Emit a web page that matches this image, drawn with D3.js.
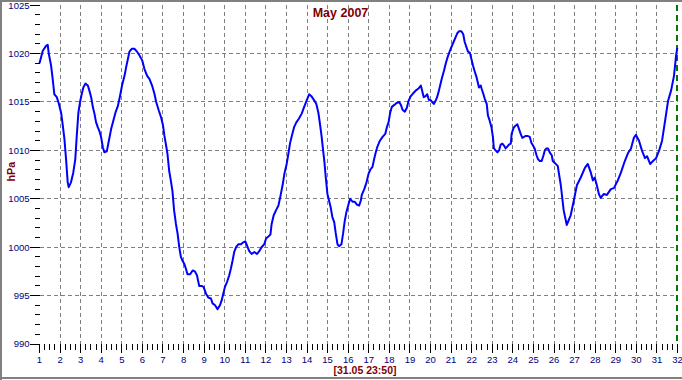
<!DOCTYPE html>
<html>
<head>
<meta charset="utf-8">
<script src="https://cdn.jsdelivr.net/npm/d3@7"></script>
<style>
  html, body { margin: 0; padding: 0; background: #ffffff; }
  svg { display: block; }
  .tick-label { font-family: "Liberation Sans Narrow", "Arial Narrow", "Liberation Sans", Arial, sans-serif; font-size: 9.5px; fill: #000080; }
  .title { font-family: "Liberation Sans", Arial, sans-serif; font-weight: bold; fill: #800000; }
</style>
</head>
<body>
<script>
// ---- data ----
const titleText = "May 2007";
const yLabelText = "hPa";
const footerText = "[31.05 23:50]";
const xTicks = d3.range(1, 33);                 // day-of-month tick labels 1..32
const yTicks = [990, 995, 1000, 1005, 1010, 1015, 1020, 1025];
const endDay = 32;                              // end-of-data marker
// time in days (day-of-month, fractional)
const days = [
  1.00,1.16,1.32,1.40,1.45,1.56,1.64,1.72,1.84,1.93,2.05,2.13,2.21,2.29,2.37,2.42,2.53,2.64,2.74,2.81,
  2.89,2.97,3.05,3.13,3.23,3.35,3.42,3.51,3.59,3.67,3.75,3.83,3.91,3.99,4.08,4.15,4.27,4.37,4.48,4.59,
  4.69,4.81,4.92,5.01,5.13,5.21,5.31,5.37,5.49,5.61,5.74,5.86,5.99,6.10,6.23,6.34,6.47,6.59,6.67,6.80,
  6.91,7.00,7.07,7.16,7.22,7.30,7.38,7.46,7.54,7.63,7.71,7.79,7.87,7.95,8.03,8.11,8.19,8.32,8.44,8.55,
  8.65,8.76,8.87,8.97,9.09,9.20,9.33,9.41,9.53,9.65,9.77,9.85,9.93,10.01,10.11,10.22,10.30,10.38,10.46,10.55,
  10.66,10.79,10.90,11.00,11.08,11.19,11.31,11.44,11.57,11.68,11.79,11.92,12.01,12.12,12.22,12.28,12.38,12.49,12.61,12.70,
  12.82,12.90,13.01,13.09,13.17,13.25,13.37,13.48,13.61,13.74,13.86,13.97,14.10,14.21,14.34,14.45,14.55,14.63,14.71,14.78,
  14.84,14.91,14.99,15.07,15.15,15.23,15.32,15.39,15.48,15.56,15.67,15.75,15.83,15.91,16.00,16.09,16.21,16.32,16.42,16.53,
  16.61,16.66,16.78,16.89,16.99,17.07,17.18,17.26,17.34,17.42,17.54,17.67,17.80,17.88,17.96,18.04,18.12,18.24,18.35,18.48,
  18.56,18.64,18.75,18.85,18.93,19.04,19.16,19.29,19.42,19.53,19.61,19.67,19.76,19.84,19.92,20.00,20.08,20.16,20.24,20.32,
  20.41,20.49,20.57,20.65,20.73,20.81,20.89,20.98,21.06,21.14,21.22,21.30,21.38,21.50,21.59,21.66,21.74,21.82,21.91,21.98,
  22.06,22.14,22.23,22.30,22.35,22.44,22.48,22.57,22.64,22.73,22.79,22.87,22.96,23.03,23.08,23.16,23.25,23.33,23.41,23.49,
  23.57,23.65,23.73,23.81,23.90,23.94,24.03,24.10,24.22,24.30,24.38,24.46,24.54,24.63,24.71,24.82,24.90,24.98,25.06,25.15,
  25.22,25.31,25.40,25.49,25.55,25.63,25.71,25.79,25.89,25.94,26.18,26.33,26.47,26.62,26.81,26.96,27.11,27.30,27.50,27.64,
  27.79,27.89,27.98,28.08,28.18,28.27,28.42,28.57,28.76,28.91,29.10,29.25,29.44,29.59,29.74,29.88,29.98,30.13,30.27,30.42,
  30.52,30.67,30.81,30.96,31.11,31.25,31.40,31.54,31.69,31.83,31.93,31.99
];
// air pressure, hPa
const pressure = [
  1019.0,1020.3,1020.8,1020.9,1020.0,1018.8,1017.4,1015.8,1015.5,1014.9,1013.9,1012.6,1011.2,1009.1,1006.7,1006.2,1006.7,1007.7,1009.1,1011.5,
  1013.9,1015.0,1015.8,1016.5,1016.9,1016.7,1016.2,1015.5,1014.5,1013.8,1012.9,1012.4,1012.0,1011.4,1010.3,1009.8,1009.9,1011.0,1012.2,1013.1,
  1013.9,1014.6,1015.7,1016.7,1017.7,1018.6,1019.6,1020.2,1020.5,1020.5,1020.2,1019.8,1019.3,1018.4,1017.7,1017.4,1016.7,1015.8,1015.0,1014.1,
  1013.4,1012.6,1011.5,1010.4,1009.6,1007.9,1006.9,1005.8,1003.8,1002.4,1001.4,1000.0,999.0,998.6,998.3,997.8,997.2,997.2,997.6,997.5,
  997.1,996.0,996.0,995.9,995.2,994.8,994.7,994.2,994.0,993.6,994.0,994.5,995.2,995.9,996.4,997.1,997.8,998.6,999.5,1000.0,
  1000.3,1000.3,1000.5,1000.6,1000.2,999.6,999.3,999.5,999.3,999.6,1000.0,1000.3,1000.9,1001.1,1001.3,1002.4,1003.3,1003.8,1004.3,1005.2,
  1006.5,1007.6,1008.6,1009.6,1010.7,1011.4,1012.4,1012.9,1013.3,1013.8,1014.5,1015.1,1015.8,1015.6,1015.2,1014.8,1013.9,1012.7,1011.4,1010.0,
  1008.9,1007.2,1005.5,1004.8,1004.1,1003.1,1002.6,1001.5,1000.3,1000.1,1000.3,1001.4,1002.7,1003.6,1004.3,1005.0,1004.7,1004.7,1004.4,1004.3,
  1004.8,1005.4,1006.0,1006.7,1007.6,1008.0,1008.3,1009.1,1009.8,1010.4,1011.0,1011.4,1011.7,1012.4,1012.9,1013.9,1014.5,1014.7,1014.9,1015.0,
  1014.7,1014.2,1014.0,1014.4,1015.1,1015.6,1015.9,1016.2,1016.4,1016.7,1016.0,1015.5,1015.6,1015.8,1015.2,1015.2,1015.0,1014.8,1015.1,1015.5,
  1016.2,1016.9,1017.6,1018.2,1018.9,1019.5,1020.0,1020.5,1020.9,1021.3,1021.7,1022.1,1022.3,1022.3,1022.0,1021.2,1020.7,1020.2,1020.1,1019.5,
  1018.8,1018.2,1017.6,1017.0,1016.5,1016.7,1016.4,1015.8,1015.3,1014.8,1013.6,1013.1,1012.4,1011.4,1010.2,1010.0,1009.8,1010.0,1010.6,1010.7,
  1010.5,1010.2,1010.4,1010.6,1010.7,1011.7,1012.3,1012.5,1012.7,1012.2,1011.7,1011.3,1011.4,1011.5,1011.5,1011.4,1010.8,1010.5,1010.2,1009.5,
  1009.1,1008.9,1008.9,1009.5,1010.0,1010.2,1010.2,1009.8,1009.5,1008.9,1008.4,1006.4,1003.8,1002.3,1003.3,1004.8,1006.4,1007.2,1008.2,1008.6,
  1007.7,1006.9,1007.2,1006.4,1005.5,1005.1,1005.5,1005.4,1006.0,1006.1,1006.9,1007.7,1008.9,1009.7,1010.2,1011.3,1011.6,1011.0,1010.0,1009.2,
  1009.4,1008.6,1008.9,1009.2,1010.0,1011.0,1013.1,1015.1,1016.2,1017.7,1019.8,1020.6
];

// ---- drawing ----
const W = 682, H = 380;
const svg = d3.select("body").append("svg").attr("width", W).attr("height", H);

svg.append("rect").attr("x", 0).attr("y", 0).attr("width", W).attr("height", H).attr("fill", "#ffffff");

const x = d3.scaleLinear().domain([1, 32]).range([39.5, 677.5]);
const y = d3.scaleLinear().domain([990, 1025]).range([344, 5.2]);
const snap = v => Math.round(v - 0.5) + 0.5;

// frame
const frame = svg.append("g").attr("stroke", "#808080").attr("stroke-width", 2).attr("shape-rendering", "crispEdges");
frame.append("line").attr("x1", 1).attr("y1", 0).attr("x2", 1).attr("y2", H);
frame.append("line").attr("x1", 0).attr("y1", 1).attr("x2", W).attr("y2", 1);
frame.append("line").attr("x1", 0).attr("y1", H - 2).attr("x2", W).attr("y2", H - 2);

// grid
const grid = svg.append("g").attr("stroke", "#808080").attr("stroke-width", 1)
  .attr("stroke-dasharray", "4,3").attr("shape-rendering", "crispEdges");
grid.selectAll(".vg").data(xTicks.filter(d => d > 1 && d < 32)).join("line")
  .attr("x1", d => snap(x(d))).attr("x2", d => snap(x(d)))
  .attr("y1", y(1025)).attr("y2", y(990));
grid.selectAll(".hg").data(yTicks.filter(d => d > 990 && d < 1025)).join("line")
  .attr("y1", d => snap(y(d))).attr("y2", d => snap(y(d)))
  .attr("x1", x(1)).attr("x2", x(32));

// end-of-data marker
svg.append("line")
  .attr("x1", x(endDay) - 0.5).attr("x2", x(endDay) - 0.5)
  .attr("y1", y(1025)).attr("y2", y(990))
  .attr("stroke", "#007800").attr("stroke-width", 2).attr("stroke-dasharray", "6,4")
  .attr("shape-rendering", "crispEdges");

// x axis ticks
const axisG = svg.append("g").attr("stroke", "#000").attr("stroke-width", 1).attr("shape-rendering", "crispEdges");
const minorX = d3.range(1, 32).flatMap(d => [d + 0.25, d + 0.5, d + 0.75]);
axisG.selectAll(".xmaj").data(xTicks).join("line")
  .attr("x1", d => snap(x(d))).attr("x2", d => snap(x(d)))
  .attr("y1", 344).attr("y2", 353);
axisG.selectAll(".xmin").data(minorX).join("line")
  .attr("x1", d => snap(x(d))).attr("x2", d => snap(x(d)))
  .attr("y1", 344).attr("y2", 349.5);
// y axis ticks
const minorY = d3.range(990, 1026).filter(v => v % 5 !== 0);
axisG.selectAll(".ymaj").data(yTicks).join("line")
  .attr("y1", d => snap(y(d))).attr("y2", d => snap(y(d)))
  .attr("x1", 30).attr("x2", 39.5);
axisG.selectAll(".ymin").data(minorY).join("line")
  .attr("y1", d => snap(y(d))).attr("y2", d => snap(y(d)))
  .attr("x1", 35).attr("x2", 39.5);

// tick labels
svg.append("g").selectAll("text").data(xTicks).join("text")
  .attr("class", "tick-label").attr("text-anchor", "middle")
  .attr("x", d => x(d)).attr("y", 362.5)
  .text(d => d);
svg.append("g").selectAll("text").data(yTicks).join("text")
  .attr("class", "tick-label").attr("text-anchor", "end")
  .attr("x", 29.5).attr("y", d => y(d) + 3.3)
  .text(d => d);

// data line
const line = d3.line().x((d, i) => x(days[i])).y(d => y(d));
svg.append("path").datum(pressure)
  .attr("fill", "none").attr("stroke", "#0000ff").attr("stroke-width", 2)
  .attr("stroke-linejoin", "round")
  .attr("d", line);

// titles
svg.append("text").attr("class", "title").attr("x", 340.5).attr("y", 17)
  .attr("text-anchor", "middle").attr("font-size", "12.5px").text(titleText);
svg.append("text").attr("class", "title").attr("text-anchor", "middle")
  .attr("font-size", "10.8px")
  .attr("transform", "translate(14.7,171.7) rotate(-90)").text(yLabelText);
svg.append("text").attr("class", "title").attr("x", 365).attr("y", 374.2)
  .attr("text-anchor", "middle").attr("font-size", "10.5px").text(footerText);
</script>
</body>
</html>
